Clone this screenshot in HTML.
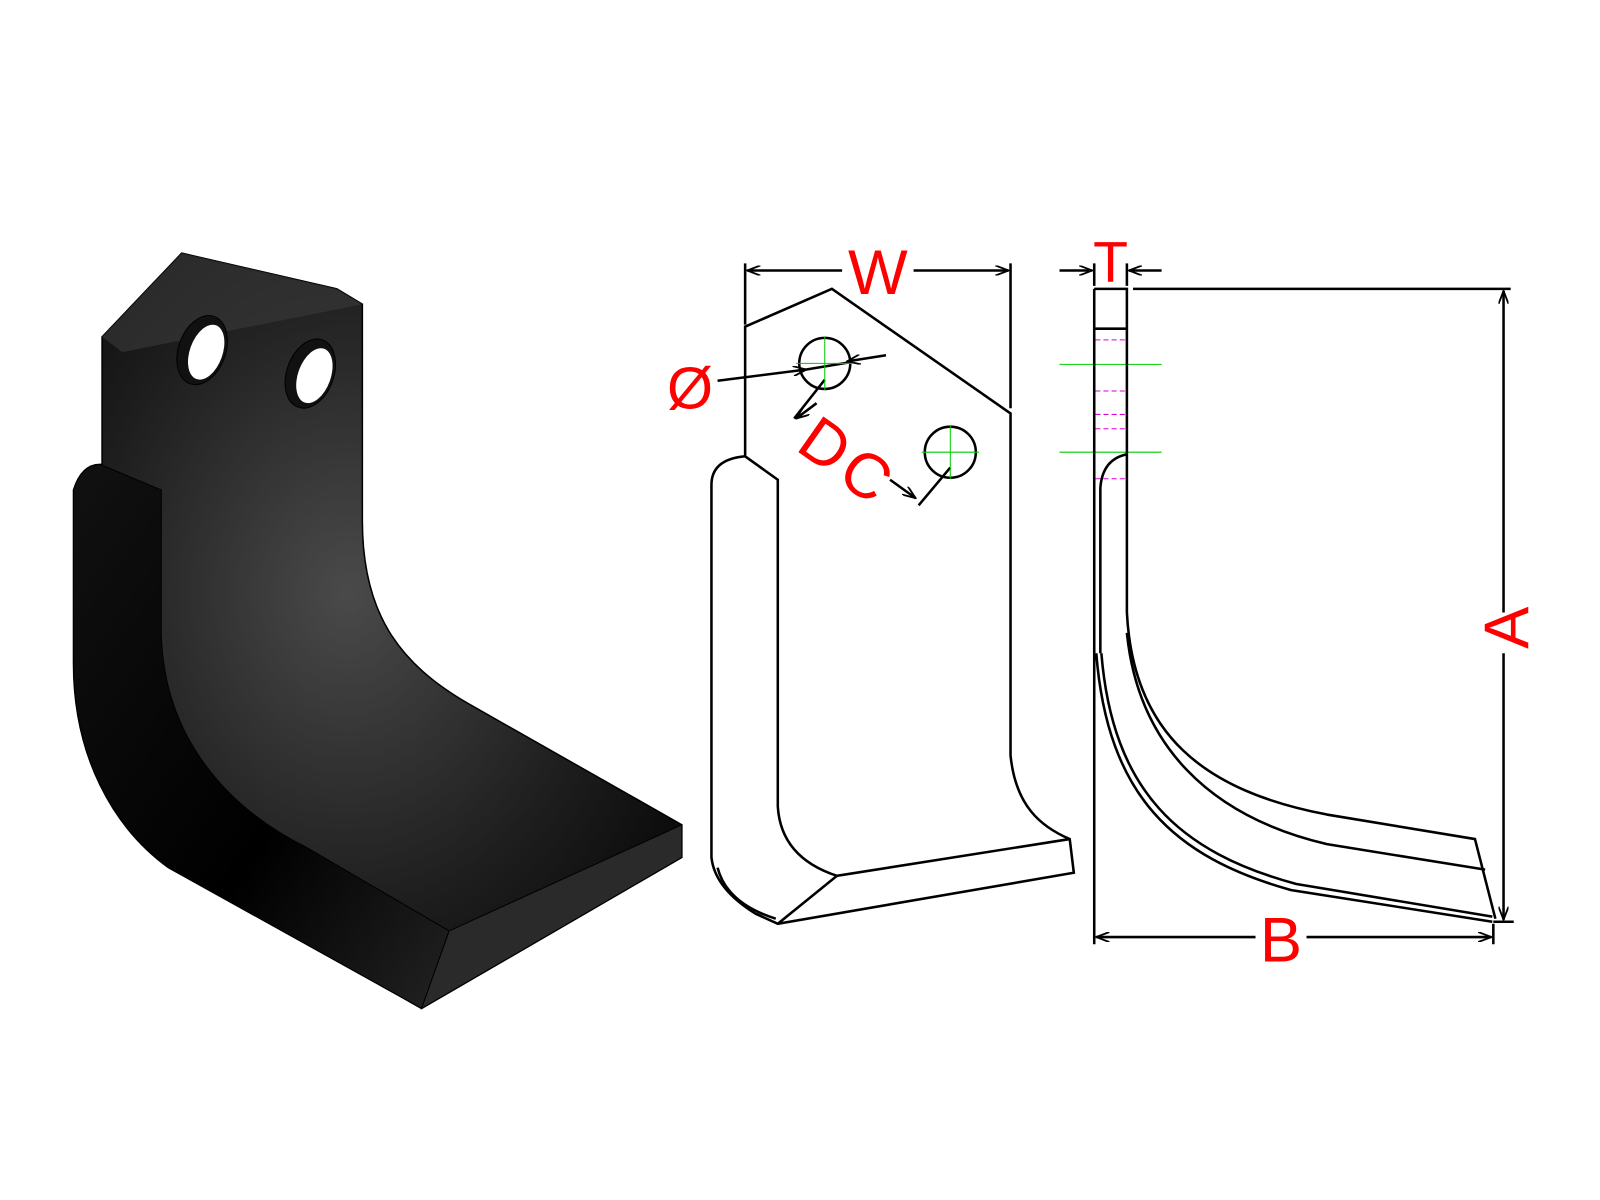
<!DOCTYPE html>
<html><head><meta charset="utf-8"><style>html,body{margin:0;padding:0;background:#fff}svg{display:block}</style></head>
<body>
<svg width="1600" height="1200" viewBox="0 0 1567.5 1175.6" xmlns="http://www.w3.org/2000/svg">
<defs>
<radialGradient id="g1" cx="0.45" cy="0.45" r="0.7">
<stop offset="0" stop-color="#4a4a4a"/><stop offset="0.6" stop-color="#1e1e1e"/><stop offset="1" stop-color="#050505"/>
</radialGradient>
<linearGradient id="g2" x1="0" y1="0" x2="1" y2="1">
<stop offset="0" stop-color="#111"/><stop offset="0.6" stop-color="#000"/><stop offset="1" stop-color="#222"/>
</linearGradient>
<marker id="ar" markerWidth="14" markerHeight="10" refX="13" refY="5" orient="auto" markerUnits="userSpaceOnUse"><path d="M0,0 L13,5 L0,10" fill="none" stroke="#000" stroke-width="1.8"/></marker>
</defs>
<path d="M100,330 L178,248 L330,283 L355,298 L355,510 C355,600 390,650 460,690 L668,808 L668,840 L413,988 L390,975 L165,850 C110,810 72,740 72,650 L72,480 Q80,455 98,455 L100,455 Z" fill="url(#g1)" stroke="#000" stroke-width="1.5"/>
<path d="M72,480 Q80,455 98,455 L158,480 L158,620 C160,720 220,790 300,830 L440,912 L413,988 L390,975 L165,850 C110,810 72,740 72,650 Z" fill="url(#g2)" stroke="#000" stroke-width="1"/>
<path d="M440,912 L668,808 L668,840 L413,988 Z" fill="#2a2a2a" stroke="#000"/>
<path d="M100,330 L178,248 L330,283 L355,298 L120,345 Z" fill="#3a3a3a" opacity="0.6"/>
<ellipse cx="198" cy="343" rx="23" ry="35" transform="rotate(20 198 343)" fill="#111" stroke="#000"/>
<ellipse cx="202" cy="345" rx="16" ry="28" transform="rotate(20 202 345)" fill="#fff"/>
<ellipse cx="304" cy="366" rx="23" ry="35" transform="rotate(20 304 366)" fill="#111" stroke="#000"/>
<ellipse cx="308" cy="368" rx="16" ry="28" transform="rotate(20 308 368)" fill="#fff"/>
<g fill="none" stroke="#000" stroke-width="2.5">
<path d="M730,447 L730,320 L815,283 L990,405 L990,740 C995,790 1020,810 1048,822 L1052,855 L762,905 L740,895 Q700,870 697,840 L697,475 Q697,450 730,447 L762,470 L762,790 Q765,840 820,858 L1048,822"/>
<path d="M762,905 L820,858"/>
<path d="M703,850 Q712,885 760,900"/>
<circle cx="808" cy="356" r="25"/><circle cx="931" cy="443" r="25"/>
<path d="M730,258 V318 M990,258 V400"/>
<path d="M825,265 H732" marker-end="url(#ar)"/><path d="M895,265 H988" marker-end="url(#ar)"/>
<path d="M703,373 L790,362" marker-end="url(#ar)"/>
<path d="M868,348 L830,354" marker-end="url(#ar)"/>
<path d="M790,362 L832,355"/>
<path d="M808,372 L778,410" /><path d="M800,395 L780,410" marker-end="url(#ar)"/>
<path d="M931,458 L900,495"/><path d="M872,470 L897,488" marker-end="url(#ar)"/>
</g>
<g stroke="#0c0" stroke-width="1">
<path d="M780,356 H836 M808,330 V382 M903,443 H959 M931,417 V469"/>
<path d="M1038,357 H1138 M1038,443 H1138"/>
</g>
<g stroke="#d0d" stroke-width="1" stroke-dasharray="5,3">
<path d="M1073,333 H1103 M1073,383 H1103 M1073,406 H1103 M1073,420 H1103 M1073,469 H1103"/>
</g>
<g fill="none" stroke="#000" stroke-width="2.5">
<path d="M1072,283 H1104 V600 M1072,322 H1104 M1072,283 V925"/>
<path d="M1078,640 V478 Q1080,450 1104,445"/>
<path d="M1074,640 C1085,780 1150,840 1265,872 L1462,903"/>
<path d="M1079,640 C1090,775 1155,835 1270,866 L1462,898"/>
<path d="M1104,600 C1110,720 1180,775 1300,798 L1445,822 L1465,900"/>
<path d="M1104,620 C1115,730 1185,800 1300,827 L1455,852"/>
<path d="M1110,283 H1480 M1463,903 H1483 M1463,905 V925"/>
<path d="M1473,600 V285" marker-end="url(#ar)"/><path d="M1473,640 V901" marker-end="url(#ar)"/>
<path d="M1230,918 H1074" marker-end="url(#ar)"/><path d="M1280,918 H1461" marker-end="url(#ar)"/>
<path d="M1072,258 V280 M1104,258 V280"/>
<path d="M1038,265 H1070" marker-end="url(#ar)"/><path d="M1138,265 H1106" marker-end="url(#ar)"/>
</g>
<g fill="#f00" font-family="Liberation Sans, sans-serif">
<text x="860" y="288" font-size="62" text-anchor="middle">W</text>
<text x="1088" y="276" font-size="56" text-anchor="middle">T</text>
<text x="676" y="400" font-size="58" text-anchor="middle">Ø</text>
<text x="0" y="0" font-size="62" transform="translate(778,440) rotate(35)">D</text>
<text x="0" y="0" font-size="62" transform="translate(818,470) rotate(35)">C</text>
<text x="1255" y="942" font-size="62" text-anchor="middle">B</text>
<text x="0" y="0" font-size="62" text-anchor="middle" transform="translate(1497,615) rotate(-90)">A</text>
</g>
</svg>
</body></html>
